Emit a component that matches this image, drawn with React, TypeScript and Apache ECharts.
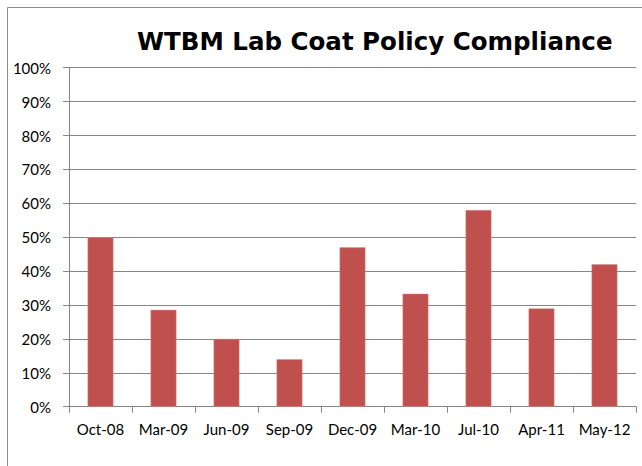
import React, { useEffect, useRef } from "react";
import * as echarts from "echarts";

const categories = ["Oct-08", "Mar-09", "Jun-09", "Sep-09", "Dec-09", "Mar-10", "Jul-10", "Apr-11", "May-12"];
const compliance = [0.5, 0.2857, 0.2, 0.14, 0.47, 0.3333, 0.58, 0.29, 0.42];
const titleText = "WTBM Lab Coat Policy Compliance";

export default function App() {
  const ref = useRef<HTMLDivElement>(null);
  useEffect(() => {
    if (!ref.current) return;
    const chart = echarts.init(ref.current, null, { renderer: "svg" });
    const font = "Lato, 'Open Sans', sans-serif";
    chart.setOption({
      animation: false,
      backgroundColor: "#ffffff",
      textStyle: { fontFamily: font },
      title: {
        text: titleText,
        left: 132,
        top: 24,
        textStyle: { fontFamily: "'DejaVu Sans', sans-serif", fontWeight: "bold", fontSize: 24.5, color: "#000000" },
      },
      graphic: [
        {
          type: "rect",
          shape: { x: 7.5, y: 7.5, width: 700, height: 600 },
          style: { fill: "none", stroke: "#8c8c8c", lineWidth: 1 },
          silent: true,
        },
      ],
      grid: { left: 69, right: 6, top: 67.7, bottom: 59.3, containLabel: false },
      xAxis: {
        type: "category",
        data: categories,
        axisLine: { show: true, lineStyle: { color: "#868686", width: 1 } },
        axisTick: { show: true, length: 6, lineStyle: { color: "#868686" } },
        axisLabel: { color: "#000000", fontSize: 15, margin: 15, fontFamily: font, interval: 0 },
      },
      yAxis: {
        type: "value",
        min: 0,
        max: 1,
        interval: 0.1,
        axisLine: { show: true, lineStyle: { color: "#868686", width: 1 } },
        axisTick: { show: true, length: 6, lineStyle: { color: "#868686" } },
        axisLabel: {
          color: "#000000",
          fontSize: 15,
          margin: 18,
          fontFamily: font,
          formatter: (v: number) => Math.round(v * 100) + "%",
        },
        splitLine: { show: true, lineStyle: { color: "#868686", width: 1 } },
      },
      series: [
        {
          type: "bar",
          data: compliance,
          barWidth: "41%",
          itemStyle: { color: "#C0504D", borderColor: "#D9908E", borderWidth: 0.5 },
        },
      ],
    });
    return () => chart.dispose();
  }, []);
  return (
    <div style={{ position: "absolute", left: 0, top: 0 }}>
      <div ref={ref} style={{ width: 642, height: 466 }} />
    </div>
  );
}
